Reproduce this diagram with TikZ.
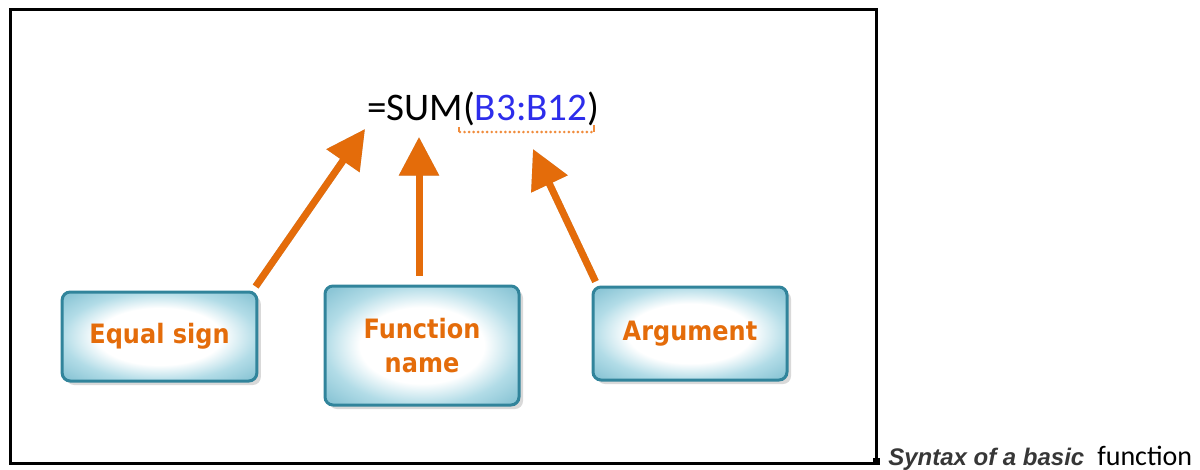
\documentclass[tikz,border=0pt]{standalone}
\usepackage{fontspec}
\setmainfont{Carlito}
\newfontfamily\lblfont{DejaVu Sans}[FakeStretch=0.9]
\newfontfamily\capfont{Liberation Sans}
\usetikzlibrary{arrows.meta,shadows}
\definecolor{arroworange}{RGB}{228,108,10}
\definecolor{txtorange}{RGB}{228,108,10}
\definecolor{dotorange}{RGB}{240,140,60}
\definecolor{boxteal}{RGB}{49,132,155}
\definecolor{boxblue}{RGB}{178,220,231}
\definecolor{boxedge}{RGB}{140,198,214}
\definecolor{refblue}{RGB}{45,45,235}
\definecolor{capgray}{RGB}{55,55,55}
\pgfdeclareradialshading{boxglow}{\pgfpoint{0bp}{0bp}}{color(0bp)=(white); color(16bp)=(white); color(25bp)=(boxblue); color(33bp)=(boxedge); color(50bp)=(boxedge)}
\tikzset{
  labelbox/.style={draw=boxteal, line width=2.25pt, rounded corners=6pt, shading=boxglow,
    drop shadow={shadow xshift=3pt,shadow yshift=-3pt,opacity=0.3},
    inner sep=0pt, text=txtorange, align=center,
    font=\lblfont\bfseries\fontsize{20}{25}\selectfont},
  arr/.style={draw=arroworange, line width=5.25pt, -{Triangle[length=29pt,width=29pt]}},
  arrshadow/.style={draw=black, opacity=0.22, line width=5.25pt, -{Triangle[length=29pt,width=29pt]}},
}
\begin{document}
\begin{tikzpicture}[x=0.75pt,y=-0.75pt]
\useasboundingbox (0,0) rectangle (1200,469);
% frame
\draw[line width=2.25pt] (10,9) rectangle (876,463);
\fill (873,458) rectangle (880,465);
% formula
\node[anchor=base west, inner sep=0pt, font=\fontsize{29.3}{32}\selectfont] (formula) at (367,120) {=SUM(\textcolor{refblue}{B3:B12})};
\draw[dotorange, line width=2.2pt, line cap=round, dash pattern=on 0pt off 3.4pt] (460,132) -- (592,132);
\draw[dotorange, line width=1.5pt] (459,127) -- (459,132);
\draw[dotorange, line width=1.5pt] (594,125) -- (594,132);
% boxes
\node[labelbox, minimum width=146pt, minimum height=66.75pt] (eq) at (159.5,336.5) {Equal sign};
\node[labelbox, minimum width=145.5pt, minimum height=89.25pt] (fn) at (422,345.5) {Function\\name};
\node[labelbox, minimum width=145.5pt, minimum height=69.75pt] (arg) at (690,333.5) {Argument};
% arrow tips
\coordinate (tipEq) at (365,129);
\coordinate (tipFn) at (419,137);
\coordinate (tipArg) at (533,149);
% arrow shadows
\begin{scope}[shift={(5,5)}]
\draw[arrshadow] ([xshift=-2pt,yshift=3pt]eq.north east) -- (tipEq);
\draw[arrshadow] ([yshift=6.5pt]fn.north -| tipFn) -- (tipFn);
\draw[arrshadow] ([xshift=3pt,yshift=3pt]arg.north west) -- (tipArg);
\end{scope}
% arrows
\draw[arr] ([xshift=-2pt,yshift=3pt]eq.north east) -- (tipEq);
\draw[arr] ([yshift=6.5pt]fn.north -| tipFn) -- (tipFn);
\draw[arr] ([xshift=3pt,yshift=3pt]arg.north west) -- (tipArg);
% caption
\node[anchor=base west, inner sep=0pt, text=capgray, font=\capfont\bfseries\itshape\fontsize{18}{20}\selectfont] (cap1) at (888,465) {Syntax of a basic};
\node[anchor=base west, inner sep=0pt, font=\fontsize{21}{24}\selectfont] (cap2) at (1097,465) {function};
\end{tikzpicture}
\end{document}
